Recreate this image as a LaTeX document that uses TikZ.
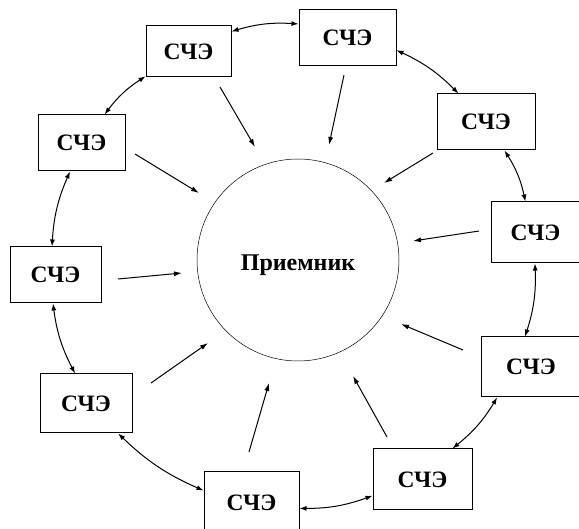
\documentclass[tikz,border=0pt]{standalone}
\usepackage{fontspec}
\setmainfont{Liberation Serif}
\usetikzlibrary{arrows.meta}
\begin{document}
\begin{tikzpicture}[x=1pt,y=1pt,
  sce/.style={draw, line width=1pt, rectangle, inner sep=0pt, font=\fontsize{23.5}{26}\selectfont\bfseries},
  link/.style={line width=1pt, {Latex[length=7pt,width=5pt]}-{Latex[length=7pt,width=5pt]}, bend left=10},
  feed/.style={line width=1pt, -{Latex[length=8pt,width=5pt]}}]
\useasboundingbox (0,0) rectangle (579,-529);
\fill[white] (0,0) rectangle (579,-529);
% receiver
\node[draw, circle, line width=0.5pt, minimum size=202pt, inner sep=0pt] (R) at (298,-260) {};
\node[font=\fontsize{24}{26}\selectfont\bfseries] (Rt) at (298,-265) {Приемник};
% sensing elements
\node[sce, minimum width=85pt, minimum height=51pt] (A) at (188.5,-51.5) {СЧЭ};
\node[sce, minimum width=97pt, minimum height=56pt] (D) at (347.5,-38) {СЧЭ};
\node[sce, minimum width=98pt, minimum height=56pt] (E) at (486,-122) {СЧЭ};
\node[sce, minimum width=89pt, minimum height=61pt] (F) at (535.5,-232.5) {СЧЭ};
\node[sce, minimum width=100pt, minimum height=60pt] (G) at (531,-367) {СЧЭ};
\node[sce, minimum width=99pt, minimum height=61pt] (H) at (422.5,-479.5) {СЧЭ};
\node[sce, minimum width=95pt, minimum height=61pt] (I) at (251.5,-502.5) {СЧЭ};
\node[sce, minimum width=92pt, minimum height=59pt] (J) at (86,-403.5) {СЧЭ};
\node[sce, minimum width=91pt, minimum height=56pt] (C) at (55.5,-275) {СЧЭ};
\node[sce, minimum width=87pt, minimum height=56pt] (B) at (81.5,-143) {СЧЭ};
% links between neighbours
\draw[link] (A.25) to (D.164);
\draw[link] (D.-14) to (E.134);
\draw[link] (E.-57) to (F.108);
\draw[link] (F.-91) to (G.101);
\draw[link] (G.222) to (H.46);
\draw[link] (H.198) to (I.-7);
\draw[link] (I.166) to (J.-43);
\draw[link] (J.110) to (C.265);
\draw[link] (C.97) to (B.248);
\draw[link] (B.51) to (A.210);
% feed arrows towards receiver
\coordinate (aS) at (220,-87);  \coordinate (aE) at (255,-147);
\coordinate (bS) at (135,-154); \coordinate (bE) at (199,-193);
\coordinate (dS) at (344,-75);  \coordinate (dE) at (329,-145);
\coordinate (eS) at (433,-153); \coordinate (eE) at (384,-183);
\coordinate (fS) at (479,-231); \coordinate (fE) at (413,-241);
\coordinate (cS) at (118,-279); \coordinate (cE) at (182,-273);
\coordinate (jS) at (151,-383); \coordinate (jE) at (208,-343);
\coordinate (iS) at (249,-452); \coordinate (iE) at (269,-383);
\coordinate (gS) at (463,-350); \coordinate (gE) at (401,-324);
\coordinate (hS) at (387,-437); \coordinate (hE) at (353,-376);
\foreach \k in {a,b,c,d,e,f,g,h,i,j} \draw[feed] (\k S) -- (\k E);
\end{tikzpicture}
\end{document}
